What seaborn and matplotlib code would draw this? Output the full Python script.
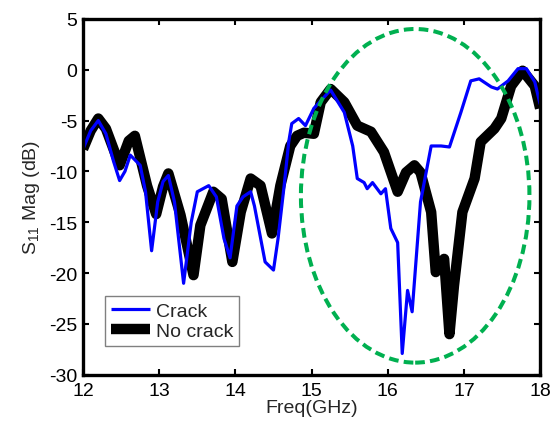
import matplotlib
matplotlib.use("Agg")
import matplotlib.pyplot as plt
from matplotlib.patches import Ellipse
import seaborn as sns
import pandas as pd

# ---- data ----
crack_freq = [12.0, 12.1, 12.2, 12.3, 12.4, 12.48, 12.55, 12.62, 12.75, 12.82, 12.9, 12.98,
              13.05, 13.12, 13.2, 13.32, 13.42, 13.5, 13.65, 13.75, 13.85, 13.93, 14.02,
              14.1, 14.2, 14.25, 14.39, 14.5, 14.56, 14.64, 14.7, 14.74, 14.83, 14.92, 15.03,
              15.25, 15.43, 15.54, 15.6, 15.69, 15.73, 15.8, 15.91, 15.97, 16.04, 16.13,
              16.19, 16.26, 16.32, 16.43, 16.57, 16.7, 16.81, 16.96, 17.09, 17.2, 17.36,
              17.44, 17.58, 17.71, 17.82, 17.93, 18.0]
crack_db = [-7.8, -6.0, -5.0, -6.3, -9.0, -10.9, -10.0, -8.4, -9.4, -12.0, -17.8, -13.0,
            -11.0, -10.4, -13.0, -21.0, -15.0, -12.0, -11.4, -12.5, -16.6, -18.5, -13.4,
            -12.5, -12.0, -13.4, -18.9, -19.7, -16.6, -11.4, -7.1, -5.3, -4.8, -5.5, -3.8,
            -2.0, -4.2, -7.5, -10.7, -11.1, -11.7, -11.1, -12.2, -11.7, -15.6, -17.0,
            -27.9, -21.7, -23.8, -13.0, -7.5, -7.5, -7.6, -4.2, -1.1, -0.9, -1.7,
            -1.9, -1.1, 0.1, 0.1, -1.2, -3.4]

nocrack_freq = [12.0, 12.1, 12.2, 12.3, 12.48, 12.6, 12.68, 12.84, 12.96, 13.05, 13.12, 13.28,
                13.45, 13.54, 13.71, 13.82, 13.96, 14.07, 14.2, 14.33, 14.48, 14.59, 14.72,
                14.81, 14.9, 15.03, 15.12, 15.25, 15.43, 15.6, 15.78, 15.95, 16.13, 16.24,
                16.35, 16.43, 16.57, 16.63, 16.74, 16.81, 16.87, 16.98, 17.14, 17.22, 17.4,
                17.49, 17.62, 17.77, 17.93, 18.0]
nocrack_db = [-7.8, -6.0, -4.8, -5.8, -9.4, -7.0, -6.5, -11.4, -14.2, -11.5, -10.2, -14.3,
              -20.2, -15.3, -12.0, -12.7, -18.9, -14.0, -10.7, -11.4, -16.1, -11.4, -7.5,
              -6.5, -6.2, -6.3, -3.2, -1.9, -3.2, -5.5, -6.1, -8.1, -12.0, -10.1,
              -9.4, -10.1, -14.0, -19.9, -18.6, -26.0, -21.2, -14.0, -10.7, -7.1, -5.8,
              -4.8, -1.6, -0.1, -1.6, -3.8]

series_names = ["Crack", "No crack"]
x_ticks = [12, 13, 14, 15, 16, 17, 18]
y_ticks = [-30, -25, -20, -15, -10, -5, 0, 5]

# highlight ellipse (data coordinates)
ell_center = (16.36, -12.4)
ell_width = 3.0
ell_height = 32.8

df = pd.concat([
    pd.DataFrame({"Freq": crack_freq, "Mag": crack_db, "Series": series_names[0]}),
    pd.DataFrame({"Freq": nocrack_freq, "Mag": nocrack_db, "Series": series_names[1]}),
])

sns.set_style("ticks")
plt.rcParams["font.family"] = ["Liberation Sans", "DejaVu Sans"]
plt.rcParams["mathtext.default"] = "regular"
plt.rcParams["lines.solid_capstyle"] = "butt"

fig = plt.figure(figsize=(5.5, 4.31), dpi=100)
ax = fig.add_axes([0.151, 0.128, 0.831, 0.826])

# draw No crack first (underneath), then Crack
sns.lineplot(data=df[df.Series == series_names[1]], x="Freq", y="Mag", ax=ax,
             color="black", linewidth=7.5, label=series_names[1], sort=False)
sns.lineplot(data=df[df.Series == series_names[0]], x="Freq", y="Mag", ax=ax,
             color="#0000ff", linewidth=2.3, label=series_names[0], sort=False)

ax.add_patch(Ellipse(ell_center, ell_width, ell_height, fill=False,
                     edgecolor="#00b050", linewidth=2.9, linestyle=(0, (2.4, 1.3)),
                     zorder=5))

ax.set_xlim(12, 18)
ax.set_ylim(-30, 5)
ax.set_xticks(x_ticks)
ax.set_yticks(y_ticks)
ax.set_xticklabels([str(t) for t in x_ticks])
ax.set_yticklabels([str(t) for t in y_ticks])
ax.tick_params(direction="in", length=4, width=1.5, labelsize=14, top=True, right=True,
               colors="black")
ax.tick_params(axis="x", pad=5)
ax.tick_params(axis="y", pad=4)
for s in ax.spines.values():
    s.set_visible(True)
    s.set_linewidth(2.4)
    s.set_color("black")

ax.set_xlabel("Freq(GHz)", fontsize=14, labelpad=0)
ax.set_ylabel("S$_{11}$ Mag (dB)", fontsize=14, labelpad=5)

handles, labels = ax.get_legend_handles_labels()
order = [labels.index(series_names[0]), labels.index(series_names[1])]
leg = ax.legend([handles[i] for i in order], [labels[i] for i in order],
                loc="lower left", bbox_to_anchor=(0.048, 0.081), fontsize=14,
                frameon=True, fancybox=False, framealpha=1, edgecolor="#808080",
                handlelength=2.0, handletextpad=0.3, borderpad=0.3, labelspacing=0.15,
                borderaxespad=0)
leg.get_frame().set_linewidth(1.0)
leg.set_zorder(10)

fig.savefig("out.png", dpi=100)
